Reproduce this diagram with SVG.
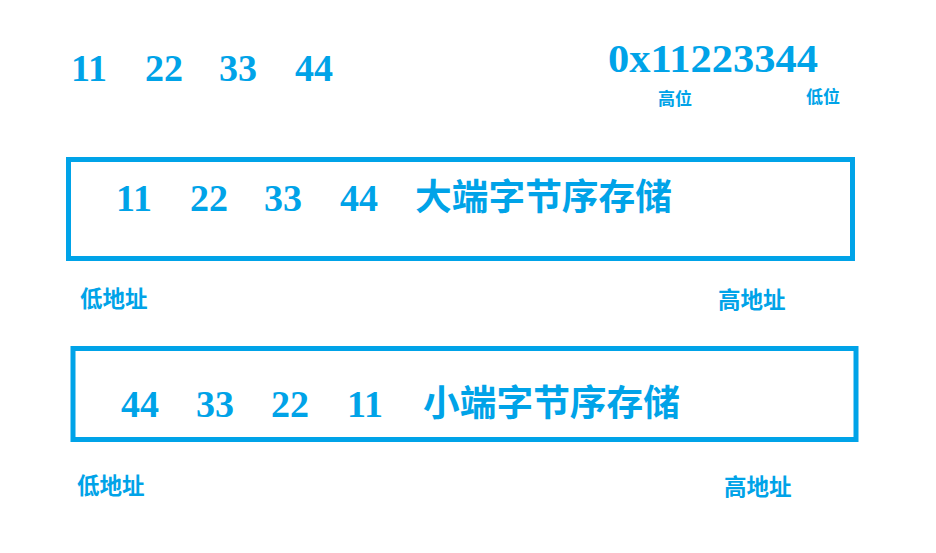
<svg xmlns="http://www.w3.org/2000/svg" width="936" height="553" viewBox="0 0 936 553">
<style>
.num{font-family:"Liberation Serif","DejaVu Serif",serif;font-weight:bold;fill:#00a3e8;font-size:38px}
.cn{font-family:"Noto Sans CJK SC","Noto Sans CJK JP",sans-serif;font-weight:bold;fill:#00a3e8}
.box{fill:none;stroke:#00a3e8;stroke-width:5}
</style>
<rect width="936" height="553" fill="#ffffff"/>
<g id="top-bytes">
<text class="num" x="71" y="81">11</text>
<text class="num" x="145" y="81">22</text>
<text class="num" x="219" y="81">33</text>
<text class="num" x="295" y="81">44</text>
</g>
<g id="hex-value">
<text class="num" x="608" y="72" style="font-size:39px" textLength="210" lengthAdjust="spacingAndGlyphs">0x11223344</text>
<text class="cn" x="658" y="105" font-size="17">高位</text>
<text class="cn" x="806" y="103" font-size="17">低位</text>
</g>
<g id="big-endian">
<rect class="box" x="68.5" y="159.5" width="784" height="99"/>
<text class="num" x="116" y="211">11</text>
<text class="num" x="190" y="211">22</text>
<text class="num" x="264" y="211">33</text>
<text class="num" x="340" y="211">44</text>
<text class="cn" x="415" y="210" font-size="36" textLength="257" lengthAdjust="spacingAndGlyphs">大端字节序存储</text>
</g>
<g id="big-endian-labels">
<text class="cn" x="80" y="307" font-size="22.5">低地址</text>
<text class="cn" x="718" y="308" font-size="22.5">高地址</text>
</g>
<g id="little-endian">
<rect class="box" x="73" y="348.5" width="783" height="91"/>
<text class="num" x="121" y="417">44</text>
<text class="num" x="196" y="417">33</text>
<text class="num" x="271" y="417">22</text>
<text class="num" x="347" y="417">11</text>
<text class="cn" x="423" y="416" font-size="36" textLength="257" lengthAdjust="spacingAndGlyphs">小端字节序存储</text>
</g>
<g id="little-endian-labels">
<text class="cn" x="77" y="494" font-size="22.5">低地址</text>
<text class="cn" x="724" y="495" font-size="22.5">高地址</text>
</g>
<g id="connectors"></g>
</svg>
